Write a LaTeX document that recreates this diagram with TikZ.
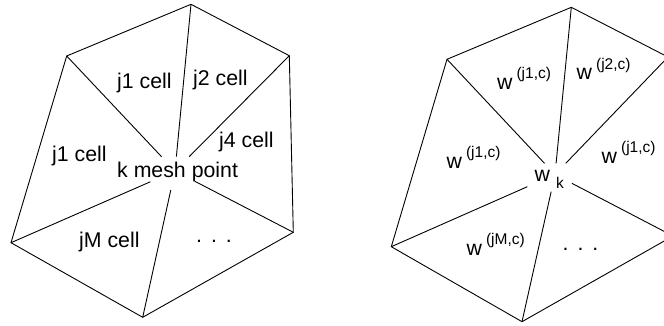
\documentclass[tikz,border=0pt]{standalone}
\usepackage{fontspec}
\setmainfont{Liberation Sans}
\usetikzlibrary{calc}
\newcommand{\bigtxt}{\fontsize{21.3}{23}\selectfont}
\newcommand{\smalltxt}{\fontsize{15.5}{16}\selectfont}
\newcommand{\wsup}[1]{w\hspace{4pt}\raisebox{10.5pt}{\smalltxt(#1)}}
\tikzset{
  edge/.style={line width=0.9pt, line join=miter},
  lbl/.style={anchor=base west, inner sep=0pt, font=\bigtxt},
  dots/.style={anchor=base, inner sep=0pt, font=\bigtxt}
}
\begin{document}
\begin{tikzpicture}[x=1pt,y=-1pt]
\useasboundingbox (0,0) rectangle (664,326);
\clip (0,0) rectangle (664,326);
% ---------- left figure ----------
\coordinate (LT)  at (191,4.3);
\coordinate (LUL) at (66.7,56);
\coordinate (LLL) at (11,242.7);
\coordinate (LB)  at (142.7,317.3);
\coordinate (LLR) at (293.3,232.3);
\coordinate (LUR) at (289.3,55.7);
\coordinate (LC)  at (175,171);
\draw[edge] (LT) -- (LUL) -- (LLL) -- (LB) -- (LLR) -- (LUR) -- cycle;
\draw[edge] (LUL) -- ($(LUL)!0.876!(LC)$);
\draw[edge] (LT)  -- ($(LT)!0.914!(LC)$);
\draw[edge] (LUR) -- ($(LUR)!0.875!(LC)$);
\draw[edge] (LLL) -- ($(LLL)!0.85!(LC)$);
\draw[edge] (LB)  -- ($(LB)!0.869!(LC)$);
\draw[edge] (LLR) -- ($(LLR)!0.83!(LC)$);
\node[lbl] (a1) at (117,89) {j1 cell};
\node[lbl] (a2) at (193,86) {j2 cell};
\node[lbl] (a4) at (219,148) {j4 cell};
\node[lbl] (a5) at (52,161) {j1 cell};
\node[lbl] (ak) at (117,177) {k mesh point};
\node[lbl] (aM) at (79,247) {jM cell};
\node[dots] (ad) at (214,242) {.\hspace{9pt}.\hspace{9pt}.};
% ---------- right figure ----------
\coordinate (RT)  at (571.3,7.3);
\coordinate (RUL) at (447,59.3);
\coordinate (RLL) at (391.3,246.7);
\coordinate (RB)  at (522,321.7);
\coordinate (RLR) at (673,236);
\coordinate (RUR) at (668,57);
\coordinate (RC)  at (555,174.5);
\draw[edge] (RT) -- (RUL) -- (RLL) -- (RB) -- (RLR) -- (RUR) -- cycle;
\draw[edge] (RUL) -- ($(RUL)!0.903!(RC)$);
\draw[edge] (RT)  -- ($(RT)!0.933!(RC)$);
\draw[edge] (RUR) -- ($(RUR)!0.905!(RC)$);
\draw[edge] (RLL) -- ($(RLL)!0.831!(RC)$);
\draw[edge] (RB)  -- ($(RB)!0.883!(RC)$);
\draw[edge] (RLR) -- ($(RLR)!0.857!(RC)$);
\node[lbl] (b1) at (497,89.3) {\wsup{j1,c}};
\node[lbl] (b2) at (576.5,80) {\wsup{j2,c}};
\node[lbl] (b4) at (601.5,163.3) {\wsup{j1,c}};
\node[lbl] (b5) at (446.5,168.3) {\wsup{j1,c}};
\node[lbl] (bk) at (534.5,181.7) {w\hspace{6pt}\raisebox{-6.6pt}{\smalltxt k}};
\node[lbl] (bM) at (466.5,255) {\wsup{jM,c}};
\node[dots] (bd) at (580.5,250) {.\hspace{9pt}.\hspace{9pt}.};
\end{tikzpicture}
\end{document}
